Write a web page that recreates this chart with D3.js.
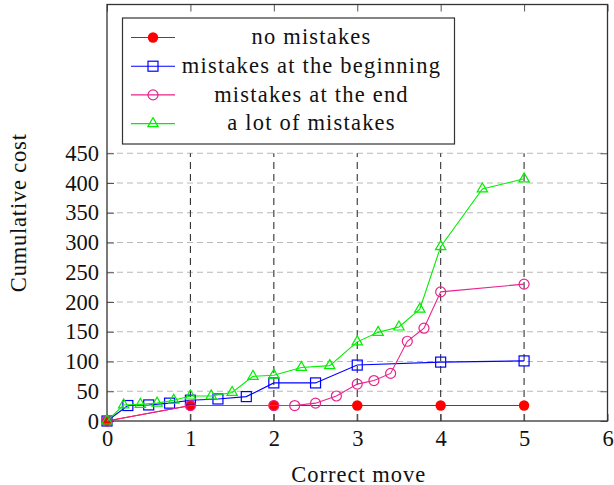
<!DOCTYPE html>
<html>
<head>
<meta charset="utf-8">
<script src="https://cdn.jsdelivr.net/npm/d3@7"></script>
<style>
  body { margin: 0; background: #fff; }
  svg { display: block; }
</style>
</head>
<body>
<svg id="chart" width="614" height="485"></svg>
<script>
// values
const noMistakesX = [0, 1, 2, 3, 4, 5];
const noMistakesY = [0, 26, 26, 26, 26, 26];

const beginningX = [0, 0.25, 0.5, 0.75, 1, 1.33, 1.67, 2, 2.5, 3, 4, 5];
const beginningY = [0, 26, 27, 30, 35, 37, 41, 64, 64, 94, 99, 101];

const endX = [0, 1, 2, 2.25, 2.5, 2.75, 3, 3.2, 3.4, 3.6, 3.8, 4, 5];
const endY = [0, 26, 26, 26, 30, 42, 62, 68, 80, 134, 156, 217, 230];

const lotX = [0, 0.2, 0.4, 0.6, 0.8, 1, 1.25, 1.5, 1.75, 2, 2.33, 2.67, 3, 3.25, 3.5, 3.75, 4, 4.5, 5];
const lotY = [0, 27, 28, 30, 35, 42, 42, 48, 75, 77, 90, 93, 133, 149, 158, 188, 293, 390, 407];

const seriesNames = ["no mistakes", "mistakes at the beginning", "mistakes at the end", "a lot of mistakes"];
const xTicks = [0, 1, 2, 3, 4, 5, 6];
const yTicks = [0, 50, 100, 150, 200, 250, 300, 350, 400, 450];
const xGrid = [1, 2, 3, 4, 5];
const yGrid = [50, 100, 150, 200, 250, 300, 350, 400, 450];

const series = [
  { name: seriesNames[0], xs: noMistakesX, ys: noMistakesY, color: "#ff0000", mark: "dot" },
  { name: seriesNames[1], xs: beginningX, ys: beginningY, color: "#0000ff", mark: "square" },
  { name: seriesNames[2], xs: endX, ys: endY, color: "#e8238c", mark: "circle" },
  { name: seriesNames[3], xs: lotX, ys: lotY, color: "#00ee00", mark: "triangle" }
];

const FONT = "'Liberation Serif'";
const FS = 22.5;
const svg = d3.select("#chart");
const plotLeft = 107, plotRight = 607.5, plotTop = 4.5, plotBottom = 421;

const x = d3.scaleLinear().domain([0, 6]).range([plotLeft, plotRight]);
const y = d3.scaleLinear().domain([0, 700]).range([plotBottom, plotTop]);

// grid
svg.append("g").selectAll("line").data(yGrid).join("line")
  .attr("x1", plotLeft).attr("x2", plotRight)
  .attr("y1", d => y(d)).attr("y2", d => y(d))
  .attr("stroke", "#b8b8b8").attr("stroke-width", 1)
  .attr("stroke-dasharray", "6,4");

svg.append("g").selectAll("line").data(xGrid).join("line")
  .attr("x1", d => x(d)).attr("x2", d => x(d))
  .attr("y1", y(0)).attr("y2", y(450))
  .attr("stroke", "#333").attr("stroke-width", 1.1)
  .attr("stroke-dasharray", "7,5");

// axes (ticks point inward)
const xAxis = svg.append("g").attr("transform", `translate(0,${plotBottom})`)
  .call(d3.axisBottom(x).tickValues(xTicks).tickFormat(d3.format("d")).tickSize(-7).tickPadding(9));
const yAxis = svg.append("g").attr("transform", `translate(${plotLeft},0)`)
  .call(d3.axisLeft(y).tickValues(yTicks).tickFormat(d3.format("d")).tickSize(-7).tickPadding(8));
svg.append("g").attr("transform", `translate(0,${plotTop})`)
  .call(d3.axisTop(x).tickValues(xTicks).tickSize(-7).tickFormat(""));
svg.append("g").attr("transform", `translate(${plotRight},0)`)
  .call(d3.axisRight(y).tickValues(yTicks).tickSize(-7).tickFormat(""));

svg.selectAll(".domain").remove();
svg.selectAll(".tick line").attr("stroke", "#555").attr("stroke-width", 1);
svg.selectAll("g").attr("font-family", FONT);
xAxis.selectAll("text").attr("font-size", FS).attr("font-family", FONT).attr("fill", "#111");
yAxis.selectAll("text").attr("font-size", FS).attr("font-family", FONT).attr("fill", "#111");

// frame
svg.append("rect")
  .attr("x", plotLeft).attr("y", plotTop)
  .attr("width", plotRight - plotLeft).attr("height", plotBottom - plotTop)
  .attr("fill", "none").attr("stroke", "#333").attr("stroke-width", 1.3);

function drawMark(g, type, color, cx, cy) {
  if (type === "dot") {
    g.append("circle").attr("cx", cx).attr("cy", cy).attr("r", 5.2).attr("fill", color);
  } else if (type === "square") {
    g.append("rect").attr("x", cx - 5).attr("y", cy - 5).attr("width", 10).attr("height", 10)
      .attr("fill", "none").attr("stroke", color).attr("stroke-width", 1.2);
  } else if (type === "circle") {
    g.append("circle").attr("cx", cx).attr("cy", cy).attr("r", 5)
      .attr("fill", "none").attr("stroke", color).attr("stroke-width", 1.2);
  } else {
    const s = 6;
    g.append("path")
      .attr("d", `M${cx},${cy - s}L${cx + s * 0.866},${cy + s * 0.5}L${cx - s * 0.866},${cy + s * 0.5}Z`)
      .attr("fill", "none").attr("stroke", color).attr("stroke-width", 1.2);
  }
}

const line = d3.line().x(d => x(d[0])).y(d => y(d[1]));

series.forEach(s => {
  const pts = s.xs.map((v, i) => [v, s.ys[i]]);
  const g = svg.append("g");
  g.append("path").datum(pts)
    .attr("fill", "none").attr("stroke", s.color).attr("stroke-width", 1.1)
    .attr("d", line);
  pts.forEach(p => drawMark(g, s.mark, s.color, x(p[0]), y(p[1])));
});

// legend
const lg = svg.append("g");
lg.append("rect").attr("x", 122.5).attr("y", 18).attr("width", 332).attr("height", 126)
  .attr("fill", "#fff").attr("stroke", "#333").attr("stroke-width", 1.2);
series.forEach((s, i) => {
  const cy = 37.5 + i * 28.7;
  lg.append("line").attr("x1", 131).attr("x2", 175).attr("y1", cy).attr("y2", cy)
    .attr("stroke", s.color).attr("stroke-width", 1.1);
  drawMark(lg, s.mark, s.color, 153, cy);
  lg.append("text").attr("x", 311.5).attr("y", cy).attr("dy", "0.3em")
    .attr("text-anchor", "middle").attr("font-size", FS).attr("letter-spacing", 1.2)
    .attr("font-family", FONT).attr("fill", "#111").text(s.name);
});

// axis titles
svg.append("text").attr("x", x(3) + 1.5).attr("y", 481.5)
  .attr("text-anchor", "middle").attr("font-size", FS).attr("letter-spacing", 1)
  .attr("font-family", FONT).attr("fill", "#111").text("Correct move");
svg.append("text")
  .attr("transform", `translate(26,${(plotTop + plotBottom) / 2}) rotate(-90)`)
  .attr("text-anchor", "middle").attr("font-size", FS).attr("letter-spacing", 0.8)
  .attr("font-family", FONT).attr("fill", "#111").text("Cumulative cost");
</script>
</body>
</html>
